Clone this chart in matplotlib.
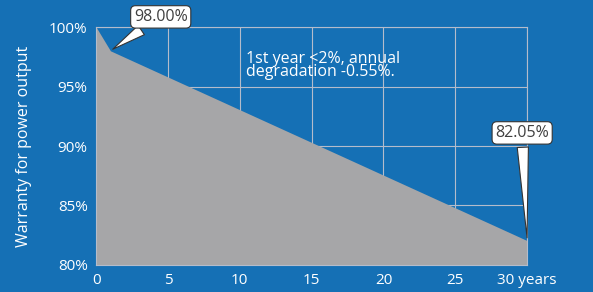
import matplotlib.pyplot as plt

plt.rcParams['font.family'] = ['Open Sans', 'DejaVu Sans']

# data
years = [0, 1, 30]
warranty = [100, 98, 82.05]
xticks = [0, 5, 10, 15, 20, 25, 30]
xlabels = ["0", "5", "10", "15", "20", "25", "30 years"]
yticks = [80, 85, 90, 95, 100]
ylabels = ["80%", "85%", "90%", "95%", "100%"]
note = "1st year <2%, annual\ndegradation -0.55%."

bg = "#1570b5"
fill_c = "#a6a6a8"
grid_c = "#b4bccb"

fig = plt.figure(figsize=(5.93, 2.92), dpi=100, facecolor=bg)
ax = fig.add_axes([0.162, 0.0925, 0.727, 0.815], facecolor=bg)

ax.fill_between(years, 80, warranty, color=fill_c, lw=0, zorder=2)

ax.set_xlim(0, 30)
ax.set_ylim(80, 100)
ax.set_xticks(xticks)
ax.set_xticklabels(xlabels)
ax.set_yticks(yticks)
ax.set_yticklabels(ylabels)
ax.tick_params(colors="white", labelsize=11, length=0, pad=6)
ax.grid(True, color=grid_c, lw=0.8, zorder=1)
ax.set_axisbelow(True)
for s in ax.spines.values():
    s.set_color(grid_c)
    s.set_linewidth(0.8)
ax.set_ylabel("Warranty for power output", color="white", fontsize=11.5, labelpad=12)

ax.text(10.45, 98.0, note, color="white", fontsize=11.5, va="top", ha="left",
        linespacing=0.8)

box = dict(boxstyle="round,pad=0.2,rounding_size=0.3", fc="white", ec="#333333", lw=0.8)
wedge = dict(arrowstyle="wedge,tail_width=0.7,shrink_factor=0.5",
             fc="white", ec="#333333", lw=0.8)
ax.annotate(f"{warranty[1]:.2f}%", xy=(years[1], warranty[1]), xytext=(4.5, 100.85),
            ha="center", va="center", color="#404040", fontsize=11.5, bbox=box,
            arrowprops=wedge, annotation_clip=False, zorder=5)
ax.annotate(f"{warranty[2]:.2f}%", xy=(years[2], warranty[2]), xytext=(29.65, 91.1),
            ha="center", va="center", color="#404040", fontsize=11.5, bbox=box,
            arrowprops=wedge, annotation_clip=False, zorder=5)

fig.savefig("out.png", dpi=100, facecolor=bg)
